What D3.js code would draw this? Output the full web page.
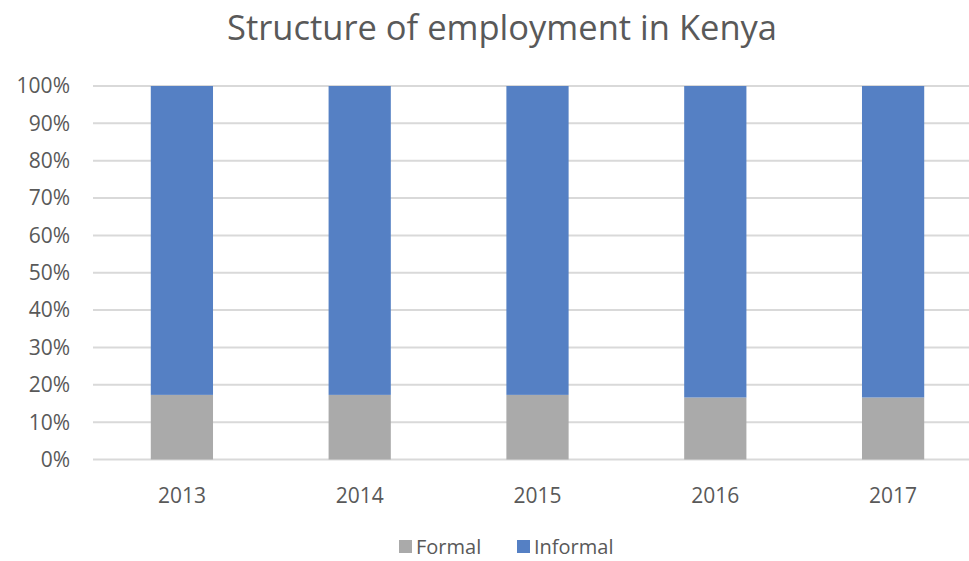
<!DOCTYPE html>
<html>
<head>
<meta charset="utf-8">
<script src="https://d3js.org/d3.v7.min.js"></script>
<style>
  body { margin: 0; background: #fff; }
  text { font-family: "Open Sans", "Noto Sans", sans-serif; fill: #595959; }
</style>
</head>
<body>
<svg id="chart" width="969" height="561"></svg>
<script>
var years = ["2013", "2014", "2015", "2016", "2017"];
var formal = [17.3, 17.3, 17.3, 16.6, 16.6];
var informal = [82.7, 82.7, 82.7, 83.4, 83.4];
var seriesNames = ["Formal", "Informal"];
var seriesColors = ["#aaaaaa", "#5580c4"];
var yTicks = [0, 10, 20, 30, 40, 50, 60, 70, 80, 90, 100];

var svg = d3.select("#chart");
var W = 969, H = 561;

var x = d3.scaleBand().domain(years).range([93, 982]).paddingInner(0.65).paddingOuter(0.325);
var y = d3.scaleLinear().domain([0, 100]).range([459.5, 86]);

// title
svg.append("text")
  .attr("x", 502).attr("y", 40)
  .attr("text-anchor", "middle")
  .style("font-size", "34.5px")
  .text("Structure of employment in Kenya");

// gridlines
svg.append("g").selectAll("line")
  .data(yTicks)
  .enter().append("line")
  .attr("x1", 93).attr("x2", W)
  .attr("y1", function(d) { return y(d); })
  .attr("y2", function(d) { return y(d); })
  .attr("stroke", "#d9d9d9")
  .attr("stroke-width", 2);

// y labels
svg.append("g").selectAll("text")
  .data(yTicks)
  .enter().append("text")
  .attr("x", 70)
  .attr("y", function(d) { return y(d); })
  .attr("dy", "0.35em")
  .attr("text-anchor", "end")
  .style("font-size", "21px")
  .text(function(d) { return d + "%"; });

// stacked bars
var rows = years.map(function(yr, i) { return { year: yr, Formal: formal[i], Informal: informal[i] }; });
var stack = d3.stack().keys(seriesNames)(rows);

svg.append("g").selectAll("g")
  .data(stack)
  .enter().append("g")
  .attr("fill", function(d, i) { return seriesColors[i]; })
  .selectAll("rect")
  .data(function(d) { return d; })
  .enter().append("rect")
  .attr("x", function(d) { return x(d.data.year); })
  .attr("width", x.bandwidth())
  .attr("y", function(d) { return y(d[1]); })
  .attr("height", function(d) { return y(d[0]) - y(d[1]); });

// x labels
svg.append("g").selectAll("text")
  .data(years)
  .enter().append("text")
  .attr("x", function(d) { return x(d) + x.bandwidth() / 2; })
  .attr("y", 503)
  .attr("text-anchor", "middle")
  .style("font-size", "21px")
  .text(function(d) { return d; });

// legend
var legend = svg.append("g");
var lx = [399, 517];
seriesNames.forEach(function(name, i) {
  legend.append("rect")
    .attr("x", lx[i]).attr("y", 540)
    .attr("width", 13).attr("height", 13)
    .attr("fill", seriesColors[i]);
  legend.append("text")
    .attr("x", lx[i] + 17).attr("y", 554)
    .style("font-size", "20px")
    .text(name);
});
</script>
</body>
</html>
